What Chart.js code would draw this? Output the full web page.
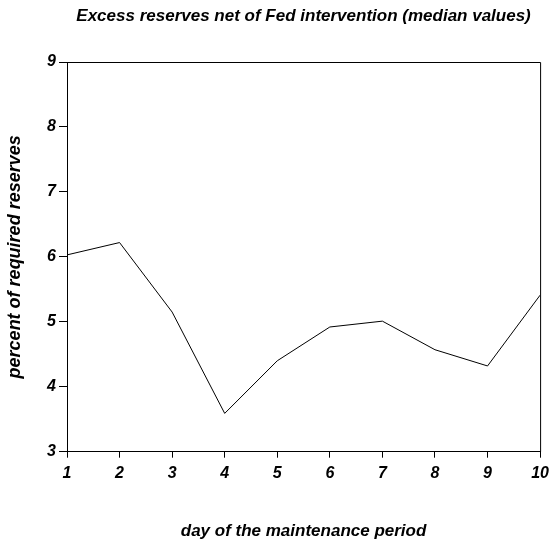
<!DOCTYPE html>
<html>
<head>
<meta charset="utf-8">
<style>
html,body{margin:0;padding:0;background:#fff;}
#wrap{width:555px;height:545px;}
</style>
<script src="https://cdn.jsdelivr.net/npm/chart.js@4.4.0/dist/chart.umd.min.js"></script>
</head>
<body>
<div id="wrap"><canvas id="c" width="555" height="545"></canvas></div>
<script>
const days = [1, 2, 3, 4, 5, 6, 7, 8, 9, 10];
const medianExcess = [6.03, 6.22, 5.15, 3.59, 4.40, 4.92, 5.01, 4.57, 4.32, 5.41];
const yTicks = [3, 4, 5, 6, 7, 8, 9];
const titleText = 'Excess reserves net of Fed intervention (median values)';
const xTitle = 'day of the maintenance period';
const yTitle = 'percent of required reserves';

const FONT = '"Liberation Sans", Arial, sans-serif';

const framePlugin = {
  id: 'frame',
  afterDraw(chart) {
    const {ctx, chartArea: a} = chart;
    ctx.save();
    ctx.strokeStyle = '#000';
    ctx.lineWidth = 1;
    ctx.beginPath();
    ctx.moveTo(a.left, a.top + 0.5);
    ctx.lineTo(a.right + 0.5, a.top + 0.5);
    ctx.lineTo(a.right + 0.5, a.bottom);
    ctx.stroke();
    ctx.fillStyle = '#000';
    ctx.font = 'italic bold 17px ' + FONT;
    ctx.textAlign = 'center';
    ctx.textBaseline = 'alphabetic';
    ctx.fillText(titleText, (a.left + a.right) / 2, 20.5);
    ctx.restore();
  }
};

new Chart(document.getElementById('c'), {
  type: 'line',
  data: {
    datasets: [{
      data: days.map((d, i) => ({x: d, y: medianExcess[i]})),
      borderColor: '#000',
      borderWidth: 1,
      pointRadius: 0,
      tension: 0,
      fill: false
    }]
  },
  options: {
    responsive: false,
    animation: false,
    devicePixelRatio: 1,
    layout: {padding: {top: 62, right: 13, left: 0, bottom: 0}},
    plugins: {legend: {display: false}, tooltip: {enabled: false}, title: {display: false}},
    scales: {
      x: {
        type: 'linear',
        min: 1, max: 10,
        afterFit(s) { s.height = 93.3; },
        afterBuildTicks(s) { s.ticks = days.map(v => ({value: v})); },
        grid: {drawOnChartArea: false, drawTicks: true, tickLength: 6, color: '#000'},
        border: {display: true, color: '#000', width: 1},
        ticks: {color: '#000', font: {family: FONT, size: 16, style: 'italic', weight: 'bold'}, padding: 6, maxRotation: 0, autoSkip: false},
        title: {display: true, text: xTitle, color: '#000', font: {family: FONT, size: 17, style: 'italic', weight: 'bold'}, padding: {top: 0, bottom: 3}}
      },
      y: {
        type: 'linear',
        min: 3, max: 9,
        afterFit(s) { s.width = 67; },
        afterBuildTicks(s) { s.ticks = yTicks.map(v => ({value: v})); },
        grid: {drawOnChartArea: false, drawTicks: true, tickLength: 8, color: '#000'},
        border: {display: true, color: '#000', width: 1},
        ticks: {color: '#000', font: {family: FONT, size: 16, style: 'italic', weight: 'bold'}, padding: 3},
        title: {display: true, text: yTitle, color: '#000', font: {family: FONT, size: 18, style: 'italic', weight: 'bold'}, padding: {top: 4, bottom: 0}}
      }
    }
  },
  plugins: [framePlugin]
});
</script>
</body>
</html>
